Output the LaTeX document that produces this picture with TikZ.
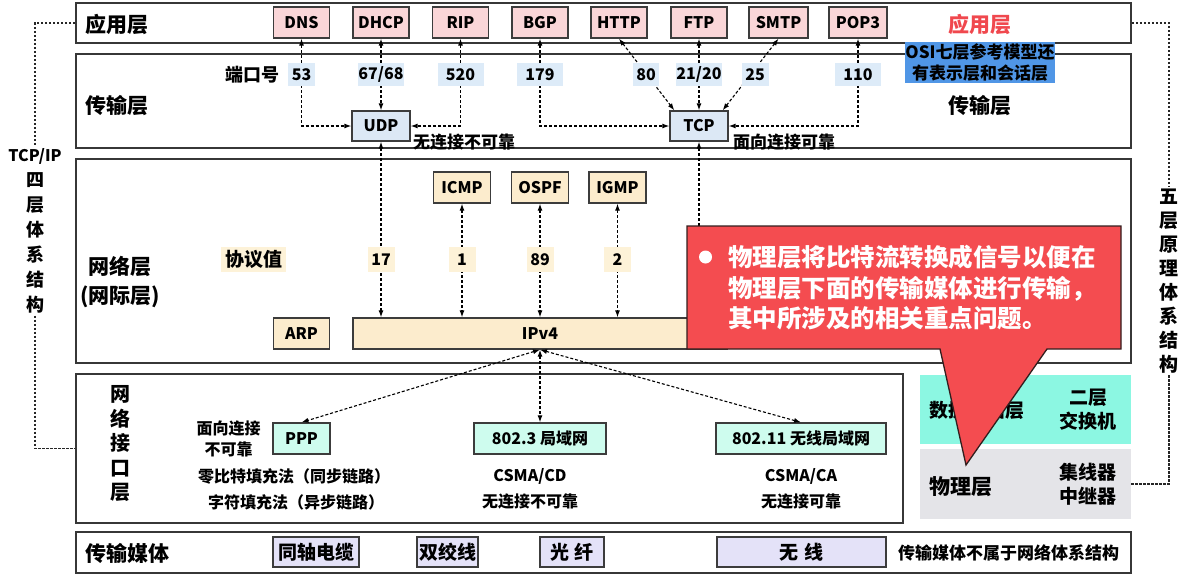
\documentclass[tikz,border=0pt]{standalone}
\usepackage{fontspec}
\setmainfont{Noto Sans CJK SC}
\usepackage{tikz}
\usetikzlibrary{positioning,arrows.meta}
\definecolor{framegray}{RGB}{55,55,55}
\definecolor{boxgray}{RGB}{60,60,60}
\definecolor{appfill}{RGB}{250,214,216}
\definecolor{portbg}{RGB}{221,235,248}
\definecolor{tpfill}{RGB}{220,232,245}
\definecolor{netfill}{RGB}{252,236,205}
\definecolor{valbg}{RGB}{253,242,216}
\definecolor{linkfill}{RGB}{206,252,238}
\definecolor{medfill}{RGB}{228,226,248}
\definecolor{dlfill}{RGB}{140,247,226}
\definecolor{phyfill}{RGB}{228,228,232}
\definecolor{callred}{RGB}{244,76,80}
\definecolor{calledge}{RGB}{50,30,30}
\definecolor{osiblue}{RGB}{80,150,230}
\definecolor{titlered}{RGB}{240,72,78}
\newcommand{\fsTitle}{\fontsize{21}{29}\selectfont\bfseries}
\newcommand{\fsBox}{\fontsize{16}{19}\selectfont\bfseries}
\newcommand{\fsNote}{\fontsize{17}{21}\selectfont\bfseries}
\newcommand{\fsDev}{\fontsize{19}{24}\selectfont\bfseries}
\newcommand{\fsCall}{\fontsize{24.5}{30.5}\selectfont\bfseries}
\tikzset{
    layer/.style={rectangle,draw=framegray,line width=1.8pt,inner sep=0pt},
    devbox/.style={rectangle,minimum width=211pt,inner sep=0pt},
    appbox/.style={rectangle,draw=boxgray,line width=1.3pt,fill=appfill,minimum width=56pt,minimum height=31pt,inner sep=0pt,font=\fsBox},
    tpbox/.style={appbox,fill=tpfill,minimum width=58pt,minimum height=30pt},
    netbox/.style={appbox,fill=netfill,minimum width=57pt},
    linkbox/.style={appbox,fill=linkfill,minimum width=57pt},
    medbox/.style={appbox,fill=medfill,minimum height=30pt,font=\fontsize{19}{23}\selectfont\bfseries},
    port/.style={rectangle,fill=portbg,minimum width=46pt,minimum height=23pt,inner sep=0pt,font=\fsBox},
    val/.style={rectangle,fill=valbg,minimum width=27pt,minimum height=25pt,inner sep=0pt,font=\fsBox},
    title/.style={inner sep=0pt,font=\fsTitle,align=center},
    note/.style={inner sep=0pt,font=\fsNote},
    small/.style={inner sep=0pt,font=\fontsize{16}{21}\selectfont\bfseries,align=center},
    devtxt/.style={inner sep=0pt,font=\fsDev,align=center},
    sidetxt/.style={inner sep=2pt,font=\fontsize{18}{25}\selectfont\bfseries,align=center},
    osi/.style={rectangle,fill=osiblue,minimum width=150pt,minimum height=41pt,inner sep=0pt,font=\fsNote,align=center},
    link/.style={{Latex[length=7pt,width=5pt]}-{Latex[length=7pt,width=5pt]},line width=1.1pt,dash pattern=on 3pt off 2pt},
    side/.style={line width=1.2pt,dash pattern=on 2.5pt off 1.5pt,draw=black!85},
    calltext/.style={inner sep=0pt,font=\fsCall,text=white,align=left},
}

\begin{document}
\begin{tikzpicture}[x=1pt,y=-1pt]
\useasboundingbox (0,0) rectangle (1187,579);
\node[layer,minimum width=1055pt,minimum height=40pt]  (App) at (603.5,23)    {};
\node[layer,minimum width=1055pt,minimum height=94pt]  (Tra) at (603.5,101)   {};
\node[layer,minimum width=1055pt,minimum height=204pt] (Net) at (603.5,261)   {};
\node[layer,minimum width=827pt,minimum height=149pt]  (Nif) at (489.5,448.5) {};
\node[layer,minimum width=1055pt,minimum height=41pt]  (Med) at (603.5,552.5) {};
\node[devbox,fill=dlfill,minimum height=69pt]  (Dl)  at (1025.5,409.5) {};
\node[devbox,fill=phyfill,minimum height=70pt] (Phy) at (1025.5,484)   {};

\node[title] (tApp)  at (117,24)  {应用层};
\node[title] (tTra)  at (117,106) {传输层};
\node[title] (tNet)  at (120,282) {网络层\\(网际层)};
\node[title,font=\fontsize{20}{24.5}\selectfont\bfseries] (tNif) at (120,444) {网\\络\\接\\口\\层};
\node[title] (tMed)  at (127,553) {传输媒体};
\node[title,text=titlered] (tApp2) at (980,24)  {应用层};
\node[title] (tTra2) at (980,106) {传输层};

\node[appbox] (Dns)  at (301.5,22.5) {DNS};
\node[appbox] (Dhcp) at (381,22.5)   {DHCP};
\node[appbox] (Rip)  at (460.5,22.5) {RIP};
\node[appbox] (Bgp)  at (540,22.5)   {BGP};
\node[appbox] (Http) at (619,22.5)   {HTTP};
\node[appbox] (Ftp)  at (699,22.5)   {FTP};
\node[appbox,minimum width=59pt] (Smtp) at (778.5,22.5) {SMTP};
\node[appbox,minimum width=58pt] (Pop)  at (858,22.5)   {POP3};

\node[tpbox] (Udp) at (381,126) {UDP};
\node[tpbox] (Tcp) at (699,126) {TCP};

\node[netbox] (Icmp) at (462,187.5)   {ICMP};
\node[netbox] (Ospf) at (540,187.5)   {OSPF};
\node[netbox] (Igmp) at (617.5,187.5) {IGMP};
\node[netbox,minimum width=56pt]  (Arp) at (301.5,333.5) {ARP};
\node[netbox,minimum width=374pt] (Ip)  at (540,333.5)   {IPv4};

\node[linkbox] (Ppp) at (301.5,438.5) {PPP};
\node[linkbox,minimum width=132pt] (Eth)  at (540,438.5) {802.3 局域网};
\node[linkbox,minimum width=170pt] (Wlan) at (801,438.5) {802.11 无线局域网};

\node[medbox,minimum width=86pt]  (Coax) at (316,552)   {同轴电缆};
\node[medbox,minimum width=61pt]  (Twp)  at (447.5,552) {双绞线};
\node[medbox,minimum width=64pt]  (Fib)  at (572,552)   {光\hspace{6pt}纤};
\node[medbox,minimum width=169pt] (Air)  at (801.5,552) {无\hspace{6pt}线};

\draw[link] (Dns.south) |- (Udp.west);
\draw[link] (Dhcp.south) -- (Udp.north);
\draw[link] (Rip.south) |- (Udp.east);
\draw[link] (Bgp.south) |- (Tcp.west);
\draw[link] (Http.south) -- ([xshift=5pt]Tcp.north west);
\draw[link] (Ftp.south) -- (Tcp.north);
\draw[link] (Smtp.south) -- ([xshift=-6pt]Tcp.north east);
\draw[link] (Pop.south) |- (Tcp.east);
\draw[link] (Udp.south) -- (Udp.south |- Ip.north);
\draw[link] (Tcp.south) -- (Tcp.south |- Ip.north);
\draw[link] (Icmp.south) -- (Icmp.south |- Ip.north);
\draw[link] (Ospf.south) -- (Ospf.south |- Ip.north);
\draw[link] (Igmp.south) -- (Igmp.south |- Ip.north);
\draw[link] (Ip.south) -- (Ppp.north);
\draw[link] (Ip.south) -- (Eth.north);
\draw[link] (Ip.south) -- (Wlan.north);

\node[note,font=\fontsize{18}{21}\selectfont\bfseries] (Port) at (252.5,75) {端口号};
\node[port,minimum width=27pt] (P53)  at (301.5,74.5) {53};
\node[port,minimum width=44pt] (P67)  at (381,74.5)   {67/68};
\node[port]                    (P520) at (460.5,74.5) {520};
\node[port]                    (P179) at (540,74.5)   {179};
\node[port,minimum width=26pt] (P80)  at (646,74.5)   {80};
\node[port]                    (P21)  at (699,74.5)   {21/20};
\node[port,minimum width=27pt] (P25)  at (755,74.5)   {25};
\node[port]                    (P110) at (858,74.5)   {110};

\node[val,minimum width=65pt,font=\fontsize{19}{21}\selectfont\bfseries] (Pv) at (253.5,259) {协议值};
\node[val] (V17) at (381,259.5)   {17};
\node[val] (V1)  at (462,259.5)   {1};
\node[val] (V89) at (540,259.5)   {89};
\node[val] (V2)  at (617.5,259.5) {2};

\node[note,anchor=west] (uNote) at (413,142) {无连接不可靠};
\node[note,anchor=west] (tNote) at (733,142) {面向连接可靠};

\node[small] (pNote) at (228.5,438.5) {面向连接\\不可靠};
\node[small] (zBit)  at (294,476) {零比特填充法（同步链路）};
\node[small] (zChr)  at (296,502) {字符填充法（异步链路）};
\node[small] (cd)    at (530,476) {CSMA/CD};
\node[small] (cdN)   at (530,502) {无连接不可靠};
\node[small] (ca)    at (801,476) {CSMA/CA};
\node[small] (caN)   at (801,502) {无连接可靠};

\node[devtxt,anchor=west] (tDl) at (929,410) {数据链路层};
\node[devtxt] (tSw) at (1088,410) {二层\\交换机};
\node[devtxt,anchor=west,font=\fontsize{21}{24}\selectfont\bfseries] (tPhy) at (929,487) {物理层};
\node[devtxt] (tHub) at (1088,484) {集线器\\中继器};

\node[note] (mNote) at (1008.5,553) {传输媒体不属于网络体系结构};
\node[osi] (Osi) at (980,62.5) {OSI七层参考模型还\\有表示层和会话层};

\node[sidetxt] (Four) at (35,231) {{\fontsize{16}{25}\selectfont TCP/IP}\\四\\层\\体\\系\\结\\构};
\node[sidetxt,font=\fontsize{19}{24}\selectfont\bfseries] (Five) at (1169,281) {五\\层\\原\\理\\体\\系\\结\\构};
\draw[side] (App.west) -| (Four.north);
\draw[side] (Four.south) |- (Nif.west);
\draw[side] (App.east) -| (Five.north);
\draw[side] (Five.south) |- (Phy.east);

\filldraw[fill=callred,draw=calledge,line width=1.3pt] (687,226) -- (1121,226) -- (1121,349) -- (1047,349) -- (966,465) -- (940,349) -- (687,349) -- cycle;
\node[circle,fill=white,minimum size=13pt,inner sep=0pt] (Dot) at (705.5,257) {};
\node[calltext,anchor=west] (Call) at (728,288) {物理层将比特流转换成信号以便在\\物理层下面的传输媒体进行传输，\\其中所涉及的相关重点问题。};
\end{tikzpicture}
\end{document}
